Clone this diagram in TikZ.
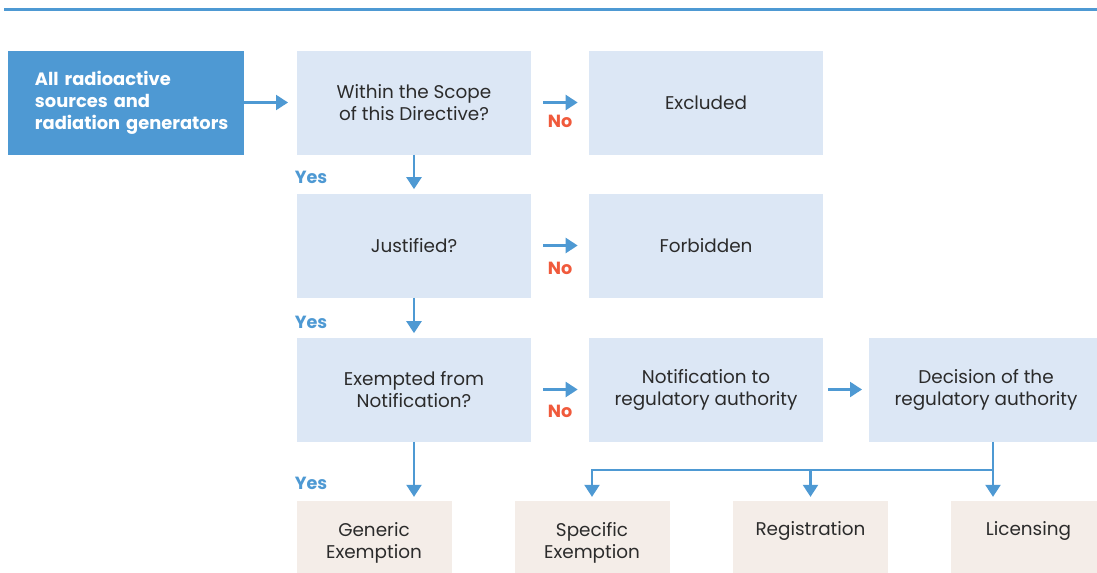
\documentclass[tikz,border=0pt]{standalone}
\usepackage{fontspec}
\setmainfont{Poppins}
\usetikzlibrary{arrows.meta,positioning}
\definecolor{dblue}{HTML}{4E99D3}
\definecolor{lblue}{HTML}{DCE7F5}
\definecolor{beige}{HTML}{F4EDE8}
\definecolor{noorange}{HTML}{F05A3C}
\definecolor{txt}{HTML}{2B2B2B}
\tikzset{
  qbox/.style={fill=lblue, draw=none, minimum width=175.5pt, minimum height=78pt,
    inner sep=0pt, align=center, text=txt, font=\fontsize{13.8}{16.5}\selectfont},
  obox/.style={fill=beige, draw=none, minimum width=116.25pt, minimum height=62pt,
    inner sep=0pt, align=center, text=txt, font=\fontsize{13.8}{16.5}\selectfont},
  srcbox/.style={fill=dblue, draw=none, minimum width=177pt, minimum height=78pt,
    inner sep=0pt, text width=136.5pt, align=left, text=white,
    font=\fontsize{13.4}{16.5}\selectfont\bfseries},
  conn/.style={draw=dblue, line width=2.2pt, -{Triangle[width=11pt,length=9pt]}},
  plain/.style={draw=dblue, line width=2.2pt},
  yeslab/.style={text=dblue, font=\fontsize{13.2}{15}\selectfont\bfseries, inner sep=0pt},
  nolab/.style={text=noorange, font=\fontsize{13.2}{15}\selectfont\bfseries, inner sep=0pt},
}
\begin{document}
\begin{tikzpicture}[x=0.75pt,y=-0.75pt]
\useasboundingbox (0,0) rectangle (1097,572);
\clip (0,0) rectangle (1097,572);
% top rule
\draw[dblue, line width=2pt] (4,9.5) -- (1097,9.5);
% nodes
\node[srcbox] (src) at (126,102.5) {All radioactive\\ sources and\\ \mbox{radiation generators}};
\node[qbox] (scope) at (414,102.5) {Within the Scope\\ of this Directive?};
\node[qbox] (excl) at (706,102.5) {Excluded};
\node[qbox] (just) at (414,245.5) {Justified?};
\node[qbox] (forb) at (706,245.5) {Forbidden};
\node[qbox] (exem) at (414,389.5) {Exempted from\\ Notification?};
\node[qbox] (notif) at (706,389.5) {Notification to\\ regulatory authority};
\node[qbox] (dec) at (986,389.5) {Decision of the\\ regulatory authority};
\node[obox] (gen) at (374,542.5) {Generic\\ Exemption};
\node[obox] (spec) at (592,542.5) {Specific\\ Exemption};
\node[obox] (reg) at (810.5,542.5) {Registration\\ \strut};
\node[obox] (lic) at (1028.5,542.5) {Licensing\\ \strut};
% connectors
\draw[conn, shorten >=6.5pt] (src.east) -- (scope.west);
\draw[conn, shorten <=9pt, shorten >=8.25pt] (scope.east) -- (excl.west);
\draw[conn, shorten <=9pt, shorten >=8.25pt] (just.east) -- (forb.west);
\draw[conn, shorten <=9pt, shorten >=8.25pt] (exem.east) -- (notif.west);
\draw[conn, shorten <=3.5pt, shorten >=5pt] (notif.east) -- (dec.west);
\draw[conn, shorten >=3pt] (scope.south) -- (just.north);
\draw[conn, shorten >=3pt] (just.south) -- (exem.north);
\draw[conn, shorten >=3pt] (exem.south) -- (exem.south |- gen.north);
\coordinate (bj) at (993,470);
\coordinate (bl) at (592,470);
\coordinate (bm) at (810.5,470);
\draw[plain] ([xshift=5.25pt]dec.south) -- (bj);
\draw[plain] (bj) -- ([xshift=-0.8pt]bl);
\draw[conn, shorten >=3pt] (bj) -- (bj |- lic.north);
\draw[conn, shorten >=3pt] (bl) -- (bl |- spec.north);
\draw[conn, shorten >=3pt] (bm) -- (bm |- reg.north);
% labels
\node[yeslab] (y1) at (311,177) {Yes};
\node[yeslab] (y2) at (311,322) {Yes};
\node[yeslab] (y3) at (311,483) {Yes};
\node[nolab] (n1) at (560,121) {No};
\node[nolab] (n2) at (560,268) {No};
\node[nolab] (n3) at (560,411) {No};
\end{tikzpicture}
\end{document}
